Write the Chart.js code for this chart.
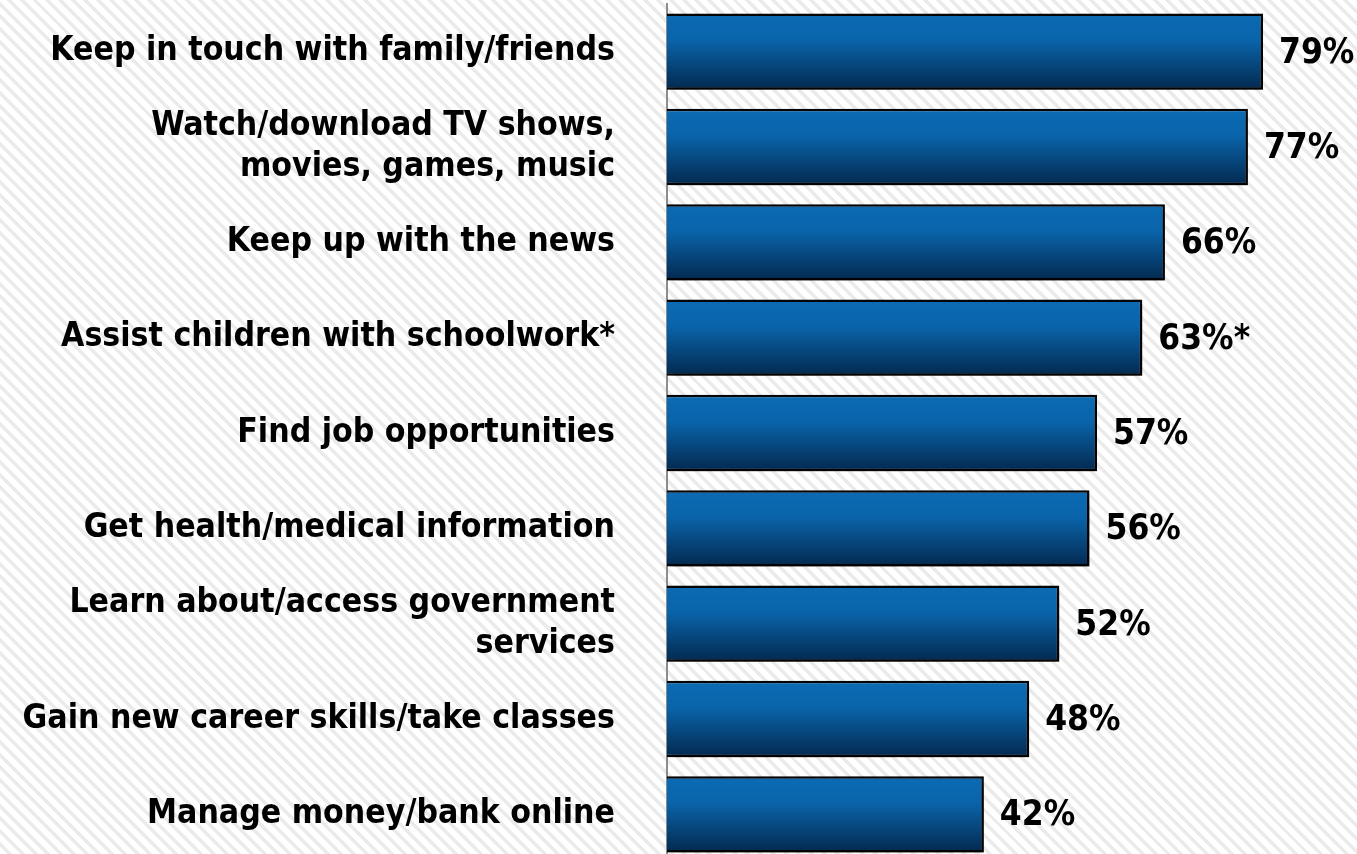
<!DOCTYPE html>
<html>
<head>
<meta charset="utf-8">
<script src="https://cdn.jsdelivr.net/npm/chart.js@4/dist/chart.umd.min.js"></script>
<style>
  html, body { margin: 0; padding: 0; overflow: hidden; }
  body {
    width: 1357px; height: 854px;
    background: repeating-linear-gradient(45deg, #ffffff 0px, #ffffff 5.5px, #ebebeb 5.5px, #ebebeb 9px);
  }
  #wrap { position: relative; width: 1357px; height: 866px; }
</style>
</head>
<body>
<div id="wrap"><canvas id="usesChart"></canvas></div>
<script>
  var categories = [
    'Keep in touch with family/friends',
    ['Watch/download TV shows,', 'movies, games, music'],
    'Keep up with the news',
    'Assist children with schoolwork*',
    'Find job opportunities',
    'Get health/medical information',
    ['Learn about/access government', 'services'],
    'Gain new career skills/take classes',
    'Manage money/bank online'
  ];
  var values = [79, 77, 66, 63, 57, 56, 52, 48, 42];
  var valueNotes = ['', '', '', '*', '', '', '', '', ''];

  var FONT = '"DejaVu Sans Condensed", "Open Sans", sans-serif';
  var BAR_PCT = 0.8;

  function barGradient(ctx) {
    var chart = ctx.chart;
    var yScale = chart.scales.y;
    if (!chart.chartArea || !yScale) return '#0a5fa3';
    var center = yScale.getPixelForValue(ctx.dataIndex);
    var half = (yScale.height / categories.length) * BAR_PCT / 2;
    var g = chart.ctx.createLinearGradient(0, center - half, 0, center + half);
    g.addColorStop(0, '#0b6bb4');
    g.addColorStop(0.35, '#0a64aa');
    g.addColorStop(1, '#03294f');
    return g;
  }

  var shadowAndLabels = {
    id: 'shadowAndLabels',
    beforeDatasetsDraw: function (chart) {
      var c = chart.ctx;
      c.save();
      c.shadowColor = 'rgba(0, 0, 0, 0.5)';
      c.shadowBlur = 8;
      c.shadowOffsetX = 4;
      c.shadowOffsetY = 6;
    },
    afterDatasetsDraw: function (chart) {
      var c = chart.ctx;
      c.restore();
      var meta = chart.getDatasetMeta(0);
      c.save();
      c.font = 'bold 35px ' + FONT;
      c.fillStyle = '#000';
      c.textAlign = 'left';
      c.textBaseline = 'middle';
      meta.data.forEach(function (el, i) {
        c.fillText(values[i] + '%' + valueNotes[i], el.x + 16, el.y + 2);
      });
      c.restore();
    }
  };

  new Chart(document.getElementById('usesChart'), {
    type: 'bar',
    data: {
      labels: categories,
      datasets: [{
        data: values,
        backgroundColor: barGradient,
        borderColor: '#050505',
        borderWidth: 2.5,
        borderSkipped: 'start',
        barPercentage: BAR_PCT,
        categoryPercentage: 1
      }]
    },
    options: {
      indexAxis: 'y',
      responsive: true,
      maintainAspectRatio: false,
      animation: false,
      layout: { padding: { top: 4, bottom: 4, left: 0, right: 11 } },
      plugins: { legend: { display: false }, tooltip: { enabled: false } },
      scales: {
        x: { display: false, min: 0, max: 90 },
        y: {
          grid: { display: false },
          border: { display: true, color: '#8c8c8c', width: 2 },
          afterFit: function (axis) {
            axis.width = 667;
            axis.paddingTop = 0;
            axis.paddingBottom = 0;
          },
          ticks: {
            color: '#000',
            padding: 44,
            font: { family: FONT, size: 33.5, weight: 'bold', lineHeight: 1.22 }
          }
        }
      }
    },
    plugins: [shadowAndLabels]
  });
</script>
</body>
</html>
